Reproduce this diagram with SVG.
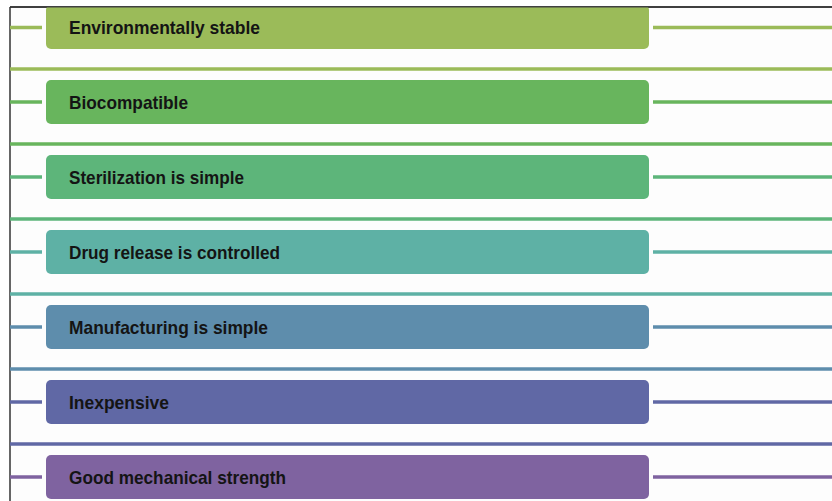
<svg xmlns="http://www.w3.org/2000/svg" width="832" height="501" viewBox="0 0 832 501">
  <defs>
    <style>
      .box { stroke: none; }
      .lbl { font-family: "Liberation Sans", Arial, sans-serif; font-weight: bold; font-size: 18.5px; fill: #141414; }
      .ln { stroke-width: 3.5; fill: none; }
      .c1 { fill: #9BBB59; } .s1 { stroke: #9BBB59; }
      .c2 { fill: #68B55D; } .s2 { stroke: #68B55D; }
      .c3 { fill: #5DB57A; } .s3 { stroke: #5DB57A; }
      .c4 { fill: #5EB1A5; } .s4 { stroke: #5EB1A5; }
      .c5 { fill: #5E8DAC; } .s5 { stroke: #5E8DAC; }
      .c6 { fill: #6068A5; } .s6 { stroke: #6068A5; }
      .c7 { fill: #7F63A0; } .s7 { stroke: #7F63A0; }
    </style>
    <clipPath id="clipTop"><rect x="0" y="7.5" width="832" height="494"/></clipPath>
  </defs>
  <rect x="0" y="0" width="832" height="501" fill="#ffffff"/>
  <rect x="10" y="7" width="822" height="494" fill="#fdfdfd"/>
  <!-- frame -->
  <line x1="10" y1="7" x2="832" y2="7" stroke="#000" stroke-width="1.5"/>
  <line x1="10" y1="7" x2="10" y2="501" stroke="#333" stroke-width="1.5"/>

  <g id="connectors">
    <line class="ln s1" x1="10" y1="27.5" x2="42" y2="27.5"/>
    <line class="ln s1" x1="653" y1="27.5" x2="832" y2="27.5"/>
    <line class="ln s1" x1="10" y1="69" x2="832" y2="69"/>
    <line class="ln s2" x1="10" y1="102" x2="42" y2="102"/>
    <line class="ln s2" x1="653" y1="102" x2="832" y2="102"/>
    <line class="ln s2" x1="10" y1="144" x2="832" y2="144"/>
    <line class="ln s3" x1="10" y1="177" x2="42" y2="177"/>
    <line class="ln s3" x1="653" y1="177" x2="832" y2="177"/>
    <line class="ln s3" x1="10" y1="219" x2="832" y2="219"/>
    <line class="ln s4" x1="10" y1="252" x2="42" y2="252"/>
    <line class="ln s4" x1="653" y1="252" x2="832" y2="252"/>
    <line class="ln s4" x1="10" y1="294" x2="832" y2="294"/>
    <line class="ln s5" x1="10" y1="327" x2="42" y2="327"/>
    <line class="ln s5" x1="653" y1="327" x2="832" y2="327"/>
    <line class="ln s5" x1="10" y1="369" x2="832" y2="369"/>
    <line class="ln s6" x1="10" y1="402" x2="42" y2="402"/>
    <line class="ln s6" x1="653" y1="402" x2="832" y2="402"/>
    <line class="ln s6" x1="10" y1="444" x2="832" y2="444"/>
    <line class="ln s7" x1="10" y1="477" x2="42" y2="477"/>
    <line class="ln s7" x1="653" y1="477" x2="832" y2="477"/>
  </g>

  <g id="node1" clip-path="url(#clipTop)">
    <rect class="box c1" x="46" y="5" width="603" height="44" rx="5"/>
    <text class="lbl" x="69" y="33.5" textLength="191" lengthAdjust="spacingAndGlyphs">Environmentally stable</text>
  </g>
  <g id="node2">
    <rect class="box c2" x="46" y="80" width="603" height="44" rx="5"/>
    <text class="lbl" x="69" y="108.5" textLength="119" lengthAdjust="spacingAndGlyphs">Biocompatible</text>
  </g>
  <g id="node3">
    <rect class="box c3" x="46" y="155" width="603" height="44" rx="5"/>
    <text class="lbl" x="69" y="183.5" textLength="175" lengthAdjust="spacingAndGlyphs">Sterilization is simple</text>
  </g>
  <g id="node4">
    <rect class="box c4" x="46" y="230" width="603" height="44" rx="5"/>
    <text class="lbl" x="69" y="258.5" textLength="211" lengthAdjust="spacingAndGlyphs">Drug release is controlled</text>
  </g>
  <g id="node5">
    <rect class="box c5" x="46" y="305" width="603" height="44" rx="5"/>
    <text class="lbl" x="69" y="333.5" textLength="199" lengthAdjust="spacingAndGlyphs">Manufacturing is simple</text>
  </g>
  <g id="node6">
    <rect class="box c6" x="46" y="380" width="603" height="44" rx="5"/>
    <text class="lbl" x="69" y="408.5" textLength="100" lengthAdjust="spacingAndGlyphs">Inexpensive</text>
  </g>
  <g id="node7">
    <rect class="box c7" x="46" y="455" width="603" height="44" rx="5"/>
    <text class="lbl" x="69" y="483.5" textLength="217" lengthAdjust="spacingAndGlyphs">Good mechanical strength</text>
  </g>
</svg>
